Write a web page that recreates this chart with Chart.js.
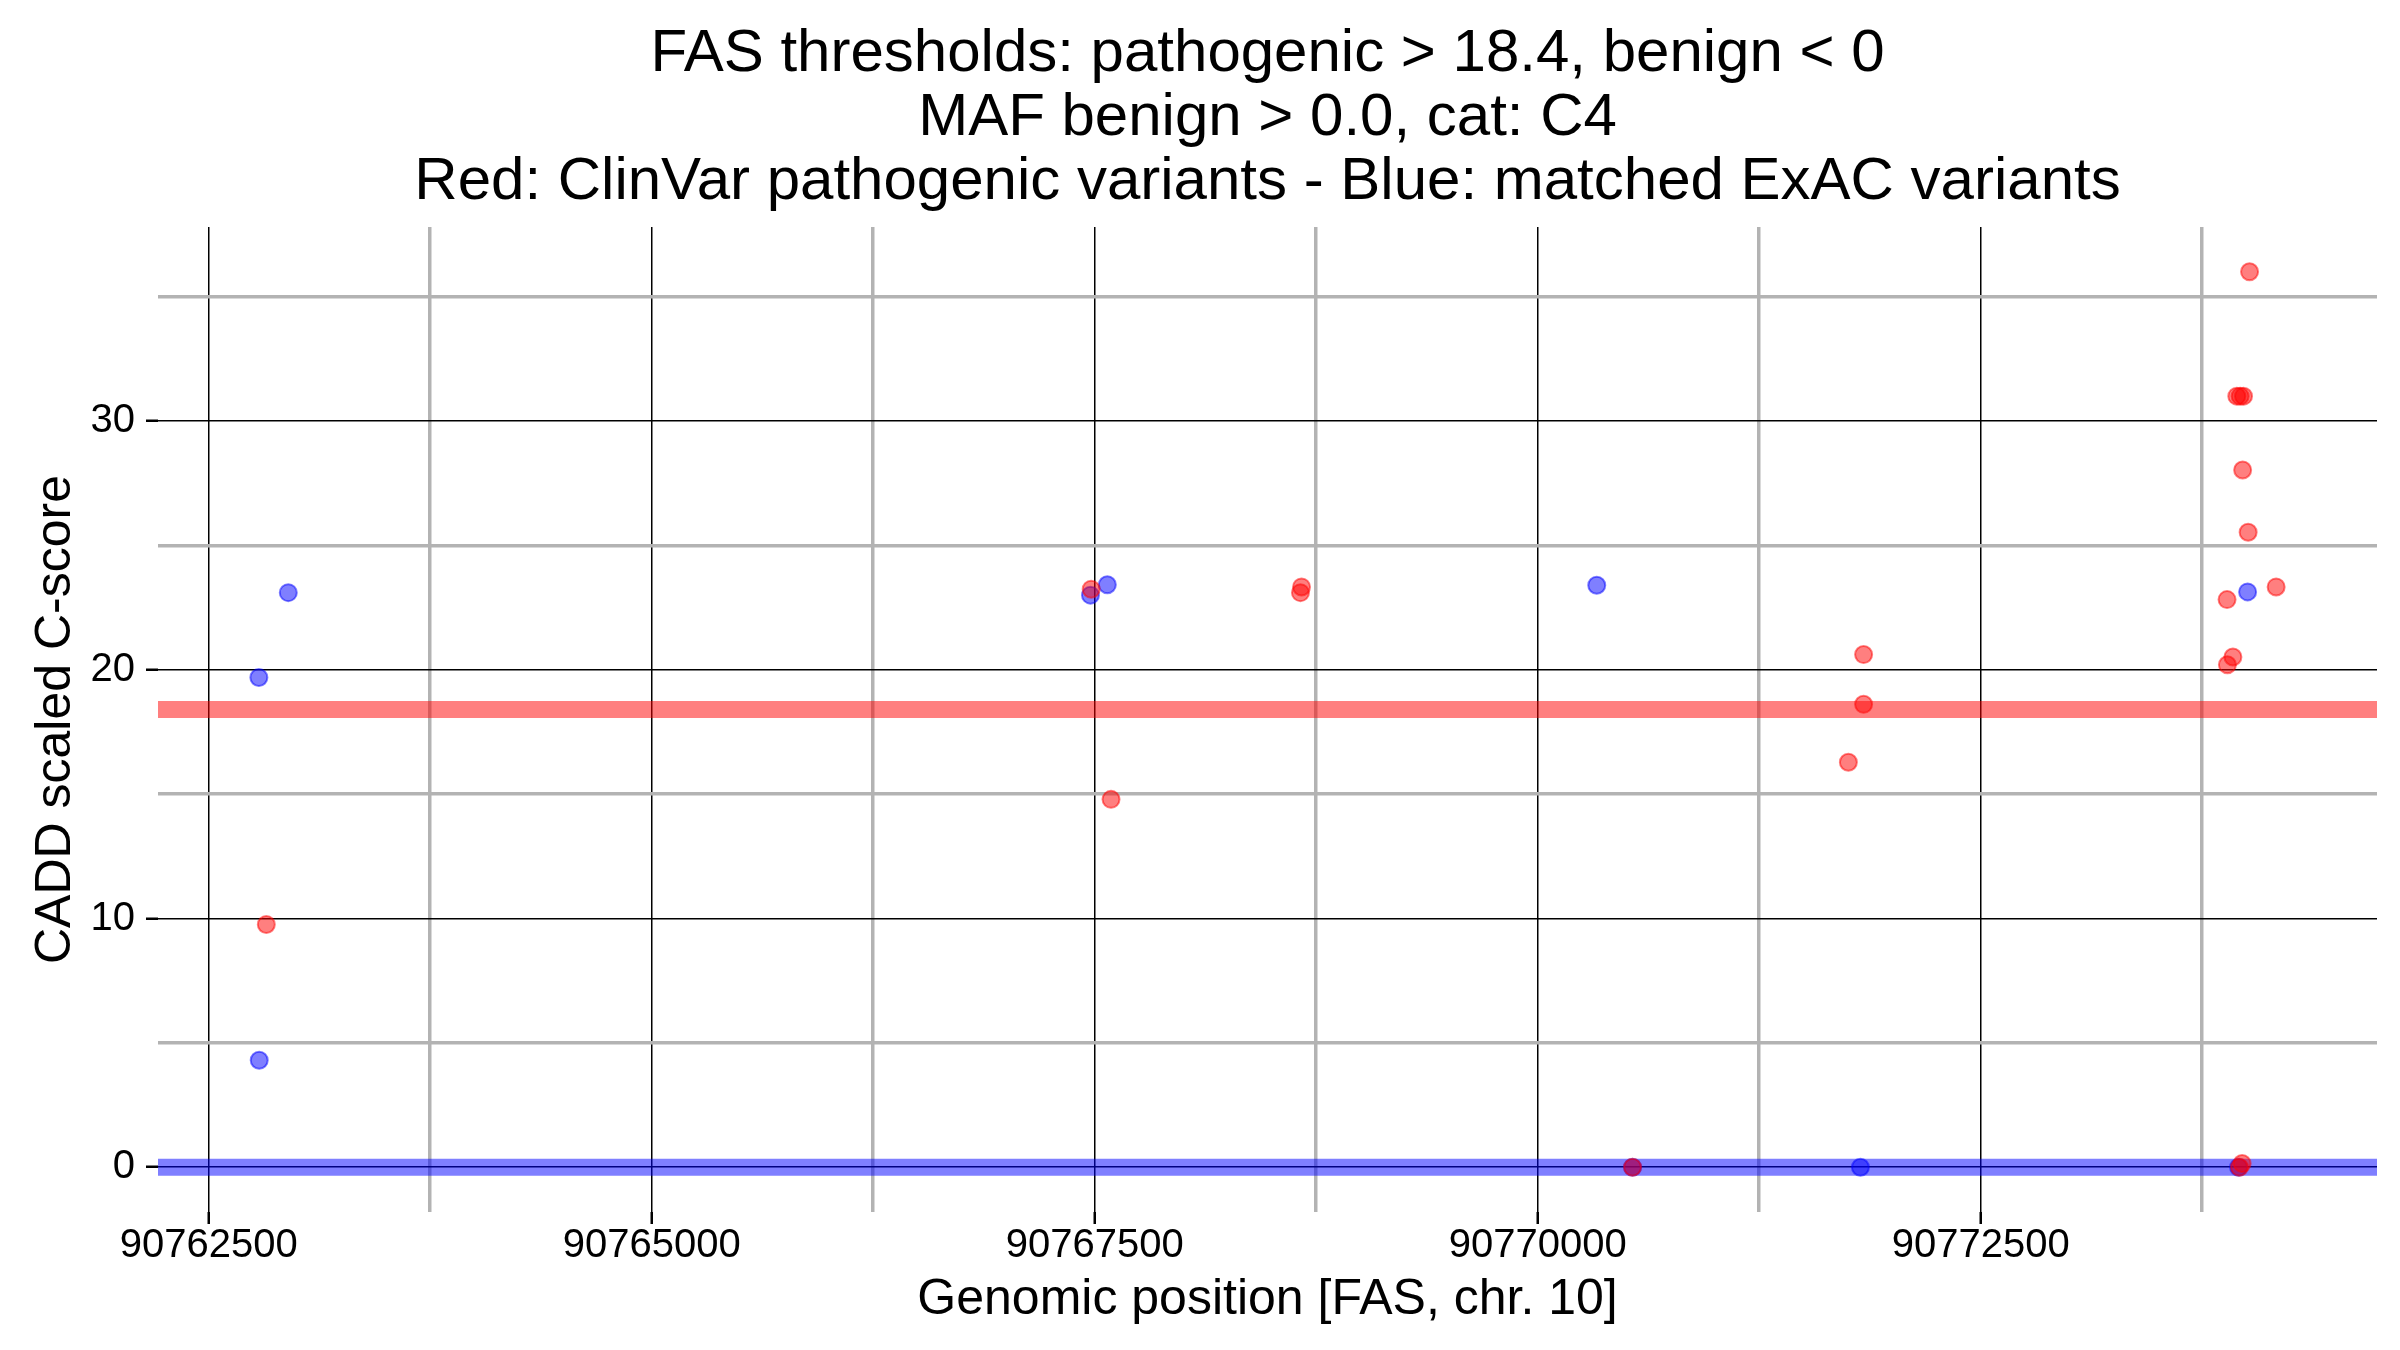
<!DOCTYPE html>
<html>
<head>
<meta charset="utf-8">
<script src="https://cdn.jsdelivr.net/npm/chart.js@4.4.1/dist/chart.umd.min.js"></script>
<style>
  html, body { margin: 0; padding: 0; background: #fff; }
  #wrap { width: 2400px; height: 1350px; }
</style>
</head>
<body>
<div id="wrap"><canvas id="cadd" width="2400" height="1350"></canvas></div>
<script>
// ClinVar pathogenic variants (red)
const clinvarPos = [90762825, 90767480, 90767592, 90768667, 90768661, 90770535, 90771839, 90771839,
    90771753, 90773890, 90773892, 90773923, 90773945, 90773964, 90773983, 90773978, 90774009,
    90774017, 90774167, 90773960, 90773975];
const clinvarScore = [9.76, 23.24, 14.79, 23.33, 23.1, 0, 20.61, 18.61,
    16.28, 22.82, 20.2, 20.51, 31.0, 31.0, 31.0, 28.03, 25.53,
    36.0, 23.33, 0, 0.15];

// matched ExAC variants (blue)
const exacPos = [90762783, 90762785, 90762949, 90767476, 90767571, 90770333, 90770535, 90771821,
    90773955, 90774006];
const exacScore = [19.69, 4.3, 23.1, 23.0, 23.42, 23.4, 0, 0, 0, 23.13];

const pathogenicThreshold = 18.4;
const benignThreshold = 0;

const xTickValues = [90762500, 90763750, 90765000, 90766250, 90767500, 90768750, 90770000, 90771250, 90772500, 90773750];
const xTickLabels = ["90762500", "", "90765000", "", "90767500", "", "90770000", "", "90772500", ""];
const yTickValues = [0, 5, 10, 15, 20, 25, 30, 35];
const yTickLabels = ["0", "", "10", "", "20", "", "30", ""];

const FONT = "'Liberation Sans', Arial, sans-serif";

// ggplot-like 5% expansion of the data range
const allX = clinvarPos.concat(exacPos);
const allY = clinvarScore.concat(exacScore);
const xSpan = Math.max(...allX) - Math.min(...allX);
const ySpan = Math.max(...allY) - Math.min(...allY);
const xMin = Math.min(...allX) - 0.05 * xSpan;
const xMax = Math.max(...allX) + 0.05 * xSpan;
const yMin = Math.min(...allY) - 0.05 * ySpan;
const yMax = Math.max(...allY) + 0.05 * ySpan;

const toPoints = (xs, ys) => xs.map((x, i) => ({ x: x, y: ys[i] }));

const isMajor = (labels) => (ctx) => labels[ctx.index] !== "";

// datasets drawn last-to-first, so the threshold bands (at the end) sit under the points
new Chart(document.getElementById("cadd"), {
    type: "scatter",
    data: {
        datasets: [
            {
                label: "ClinVar",
                data: toPoints(clinvarPos, clinvarScore),
                backgroundColor: "rgba(255,0,0,0.5)",
                borderColor: "rgba(255,0,0,0.5)",
                borderWidth: 2,
                pointRadius: 8.5
            },
            {
                label: "ExAC",
                data: toPoints(exacPos, exacScore),
                backgroundColor: "rgba(0,0,255,0.5)",
                borderColor: "rgba(0,0,255,0.5)",
                borderWidth: 2,
                pointRadius: 8.5
            },
            {
                label: "pathogenic threshold",
                data: [{ x: xMin, y: pathogenicThreshold }, { x: xMax, y: pathogenicThreshold }],
                showLine: true,
                borderColor: "rgba(255,0,0,0.5)",
                borderWidth: 17,
                pointRadius: 0
            },
            {
                label: "benign threshold",
                data: [{ x: xMin, y: benignThreshold }, { x: xMax, y: benignThreshold }],
                showLine: true,
                borderColor: "rgba(0,0,255,0.5)",
                borderWidth: 17,
                pointRadius: 0
            }
        ]
    },
    options: {
        responsive: false,
        animation: false,
        devicePixelRatio: 1,
        layout: { padding: { left: 0, right: 23, top: 0, bottom: 0 } },
        plugins: {
            legend: { display: false },
            tooltip: { enabled: false },
            title: {
                display: true,
                fullSize: false,
                text: [
                    "FAS thresholds: pathogenic > 18.4, benign < 0",
                    "MAF benign > 0.0, cat: C4",
                    "Red: ClinVar pathogenic variants - Blue: matched ExAC variants"
                ],
                color: "#000",
                font: { family: FONT, size: 60, weight: "normal", lineHeight: 64 / 60 },
                padding: { top: 22, bottom: 13 }
            }
        },
        scales: {
            x: {
                type: "linear",
                min: xMin,
                max: xMax,
                afterBuildTicks: (scale) => { scale.ticks = xTickValues.map(v => ({ value: v })); },
                afterFit: (scale) => { scale.height = 138; },
                border: { display: false },
                grid: {
                    color: (ctx) => isMajor(xTickLabels)(ctx) ? "#000" : "#b3b3b3",
                    lineWidth: (ctx) => isMajor(xTickLabels)(ctx) ? 1.5 : 3.5,
                    tickColor: (ctx) => isMajor(xTickLabels)(ctx) ? "#000" : "rgba(0,0,0,0)",
                    tickWidth: 2.5,
                    tickLength: 12
                },
                ticks: {
                    autoSkip: false,
                    maxRotation: 0,
                    color: "#000",
                    padding: -2,
                    font: { family: FONT, size: 40 },
                    callback: (value) => xTickLabels[xTickValues.indexOf(value)]
                },
                title: {
                    display: true,
                    text: "Genomic position [FAS, chr. 10]",
                    color: "#000",
                    font: { family: FONT, size: 50 },
                    padding: { top: 0, bottom: 20 }
                }
            },
            y: {
                type: "linear",
                min: yMin,
                max: yMax,
                afterBuildTicks: (scale) => { scale.ticks = yTickValues.map(v => ({ value: v })); },
                afterFit: (scale) => { scale.width = 158; },
                border: { display: false },
                grid: {
                    color: (ctx) => isMajor(yTickLabels)(ctx) ? "#000" : "#b3b3b3",
                    lineWidth: (ctx) => isMajor(yTickLabels)(ctx) ? 1.5 : 3.5,
                    tickColor: (ctx) => isMajor(yTickLabels)(ctx) ? "#000" : "rgba(0,0,0,0)",
                    tickWidth: 2.5,
                    tickLength: 12
                },
                ticks: {
                    autoSkip: false,
                    color: "#000",
                    padding: 11,
                    font: { family: FONT, size: 40 },
                    callback: (value) => yTickLabels[yTickValues.indexOf(value)]
                },
                title: {
                    display: true,
                    text: "CADD scaled C-score",
                    color: "#000",
                    font: { family: FONT, size: 50 },
                    padding: { top: 26, bottom: 0 }
                }
            }
        }
    }
});
</script>
</body>
</html>
